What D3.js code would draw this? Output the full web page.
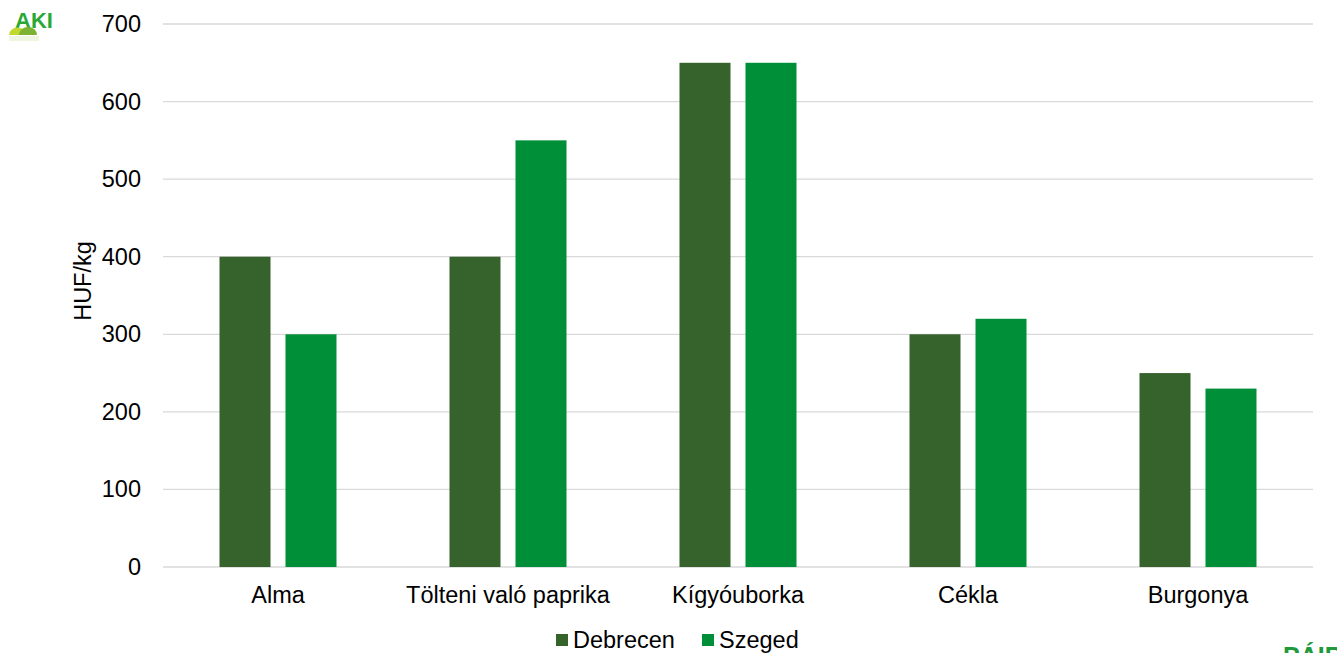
<!DOCTYPE html>
<html>
<head>
<meta charset="utf-8">
<script src="https://cdn.jsdelivr.net/npm/d3@7"></script>
<style>
  body { margin: 0; background: #fff; }
  text { font-family: "Liberation Sans", Arial, sans-serif; fill: #000; }
</style>
</head>
<body>
<svg id="chart" width="1337" height="653"></svg>
<script>
// chart data
const categories = ["Alma", "Tölteni való paprika", "Kígyóuborka", "Cékla", "Burgonya"];
const seriesNames = ["Debrecen", "Szeged"];
const debrecen = [400, 400, 650, 300, 250];
const szeged = [300, 550, 650, 320, 230];
const yTicks = [0, 100, 200, 300, 400, 500, 600, 700];
const colors = ["#36622b", "#008f39"];

const svg = d3.select("#chart");
const margin = { top: 24, right: 24, bottom: 86, left: 163 };
const width = 1337, height = 653;
const fontSize = "23.5px";

const x0 = d3.scaleBand()
    .domain(categories)
    .range([margin.left, width - margin.right])
    .paddingInner(0)
    .paddingOuter(0);

const x1 = d3.scaleBand()
    .domain(seriesNames)
    .range([0, x0.bandwidth()])
    .paddingInner(0.227)
    .paddingOuter(0.856);

const y = d3.scaleLinear()
    .domain([0, 700])
    .range([height - margin.bottom, margin.top]);

// gridlines
svg.append("g")
    .selectAll("line")
    .data(yTicks)
    .enter().append("line")
    .attr("x1", margin.left)
    .attr("x2", width - margin.right)
    .attr("y1", d => y(d))
    .attr("y2", d => y(d))
    .attr("stroke", "#d9d9d9")
    .attr("stroke-width", 1.3);

// y axis labels
const yAxis = d3.axisLeft(y).tickValues(yTicks).tickSize(0).tickPadding(0);
const yg = svg.append("g")
    .attr("transform", `translate(${margin.left - 22},0)`)
    .call(yAxis);
yg.select(".domain").remove();
yg.selectAll("text")
    .style("font-size", fontSize)
    .attr("font-family", null);

// bars
const series = [debrecen, szeged];
const groups = svg.append("g")
    .selectAll("g")
    .data(categories)
    .enter().append("g")
    .attr("transform", d => `translate(${x0(d)},0)`);

groups.selectAll("rect")
    .data((d, i) => seriesNames.map((s, j) => ({ key: s, value: series[j][i], j })))
    .enter().append("rect")
    .attr("x", d => x1(d.key))
    .attr("width", x1.bandwidth())
    .attr("y", d => y(d.value))
    .attr("height", d => y(0) - y(d.value))
    .attr("fill", d => colors[d.j]);

// x axis labels
const xAxis = d3.axisBottom(x0).tickSize(0).tickPadding(0);
const xg = svg.append("g")
    .attr("transform", `translate(0,${y(0) + 36})`)
    .call(xAxis);
xg.select(".domain").remove();
xg.selectAll("text")
    .style("font-size", fontSize)
    .attr("font-family", null)
    .attr("dy", 0);

// y axis title
svg.append("text")
    .attr("transform", "translate(91,281) rotate(-90)")
    .attr("text-anchor", "middle")
    .style("font-size", fontSize)
    .text("HUF/kg");

// legend
const legend = svg.append("g").attr("transform", "translate(556,640)");
const legendX = [0, 146];
seriesNames.forEach((s, i) => {
    const lg = legend.append("g").attr("transform", `translate(${legendX[i]},0)`);
    lg.append("rect")
        .attr("x", 0).attr("y", -6)
        .attr("width", 12).attr("height", 12)
        .attr("fill", colors[i]);
    lg.append("text")
        .attr("x", 17).attr("y", 8)
        .style("font-size", fontSize)
        .text(s);
});

// AKI logo (top left)
const logo = svg.append("g");
logo.append("text")
    .attr("x", 15).attr("y", 28)
    .style("font-size", "22px")
    .style("font-weight", "bold")
    .style("fill", "#2aa836")
    .text("AKI");
logo.append("path")
    .attr("d", "M9,35 A8,7 0 0 1 26,35 Z")
    .attr("fill", "#c3d82e");
logo.append("path")
    .attr("d", "M19,35 A9,8 0 0 1 37,35 Z")
    .attr("fill", "#7cb231");
logo.append("rect").attr("x", 9).attr("y", 36).attr("width", 30).attr("height", 5).attr("fill", "#eef5e0");

// partial logo (bottom right)
svg.append("text")
    .attr("x", 1283).attr("y", 665)
    .style("font-size", "25px")
    .style("font-weight", "bold")
    .style("fill", "#1e9a3c")
    .text("PÁIR");
</script>
</body>
</html>
